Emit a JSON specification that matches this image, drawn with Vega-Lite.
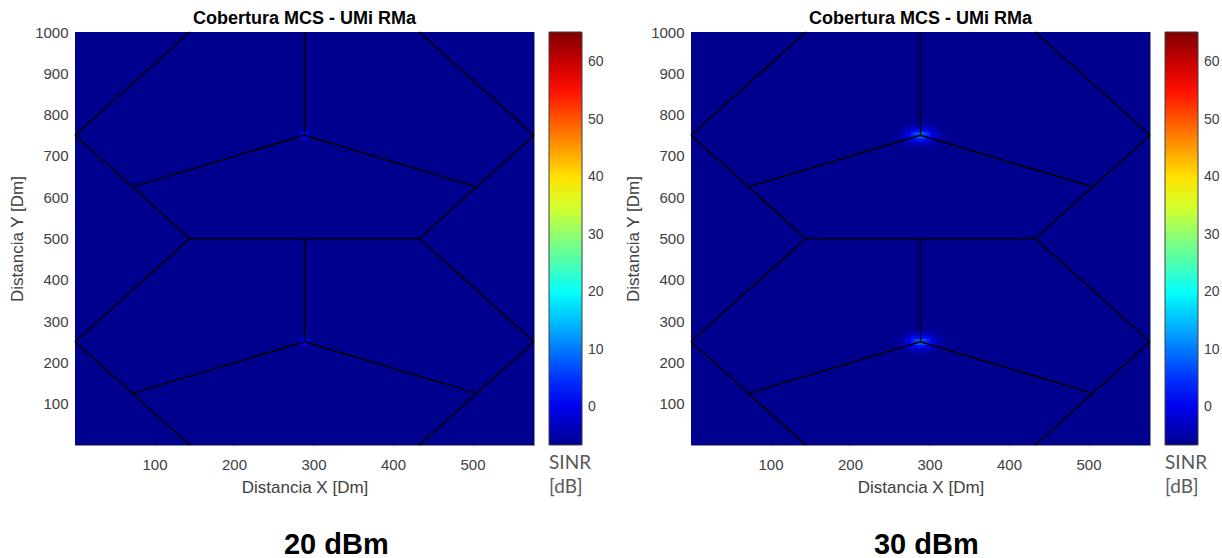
{
  "$schema": "https://vega.github.io/schema/vega-lite/v6.json",
  "padding": {"left": 8, "top": 9, "right": 0, "bottom": 0},
  "config": {
    "font": "Liberation Sans",
    "view": {"stroke": "#8a8a8a", "strokeWidth": 1},
    "axis": {
      "grid": false,
      "domain": false,
      "format": "d",
      "labelFont": "Liberation Sans",
      "labelFontSize": 15,
      "labelColor": "#404040",
      "labelFlush": false,
      "titleFont": "Liberation Sans",
      "titleFontSize": 17,
      "titleFontWeight": "normal",
      "titleColor": "#404040",
      "tickColor": "#262626",
      "tickSize": -5
    },
    "title": {"font": "Liberation Sans", "color": "#000000"}
  },
  "datasets": {
    "edges": [
      {"x0": 0, "y0": 750, "x1": 144.34, "y1": 1000},
      {"x0": 433.01, "y0": 1000, "x1": 577.35, "y1": 750},
      {"x0": 577.35, "y0": 750, "x1": 433.01, "y1": 500},
      {"x0": 433.01, "y0": 500, "x1": 144.34, "y1": 500},
      {"x0": 144.34, "y0": 500, "x1": 0, "y1": 750},
      {"x0": 288.68, "y0": 750, "x1": 288.68, "y1": 1000},
      {"x0": 288.68, "y0": 750, "x1": 72.17, "y1": 625},
      {"x0": 288.68, "y0": 750, "x1": 505.18, "y1": 625},
      {"x0": 0, "y0": 250, "x1": 144.34, "y1": 500},
      {"x0": 433.01, "y0": 500, "x1": 577.35, "y1": 250},
      {"x0": 577.35, "y0": 250, "x1": 433.01, "y1": 0},
      {"x0": 144.34, "y0": 0, "x1": 0, "y1": 250},
      {"x0": 288.68, "y0": 250, "x1": 288.68, "y1": 500},
      {"x0": 288.68, "y0": 250, "x1": 72.17, "y1": 125},
      {"x0": 288.68, "y0": 250, "x1": 505.18, "y1": 125}
    ],
    "sinr20": [
      {"x0": 0, "x1": 577.35, "y0": 0, "y1": 1000, "sinr": -6.6},
      {"x0": 280.7, "x1": 284.7, "y0": 734, "y1": 742, "sinr": -5.5},
      {"x0": 284.7, "x1": 288.7, "y0": 734, "y1": 742, "sinr": -4.5},
      {"x0": 288.7, "x1": 292.7, "y0": 734, "y1": 742, "sinr": -4.5},
      {"x0": 292.7, "x1": 296.7, "y0": 734, "y1": 742, "sinr": -5.5},
      {"x0": 280.7, "x1": 284.7, "y0": 742, "y1": 750, "sinr": -3.5},
      {"x0": 284.7, "x1": 288.7, "y0": 742, "y1": 750, "sinr": 1.5},
      {"x0": 288.7, "x1": 292.7, "y0": 742, "y1": 750, "sinr": 1.5},
      {"x0": 292.7, "x1": 296.7, "y0": 742, "y1": 750, "sinr": -3.5},
      {"x0": 280.7, "x1": 284.7, "y0": 750, "y1": 758, "sinr": -3.5},
      {"x0": 284.7, "x1": 288.7, "y0": 750, "y1": 758, "sinr": 1.5},
      {"x0": 288.7, "x1": 292.7, "y0": 750, "y1": 758, "sinr": 1.5},
      {"x0": 292.7, "x1": 296.7, "y0": 750, "y1": 758, "sinr": -3.5},
      {"x0": 280.7, "x1": 284.7, "y0": 758, "y1": 766, "sinr": -5.5},
      {"x0": 284.7, "x1": 288.7, "y0": 758, "y1": 766, "sinr": -4.5},
      {"x0": 288.7, "x1": 292.7, "y0": 758, "y1": 766, "sinr": -4.5},
      {"x0": 292.7, "x1": 296.7, "y0": 758, "y1": 766, "sinr": -5.5},
      {"x0": 280.7, "x1": 284.7, "y0": 234, "y1": 242, "sinr": -5.5},
      {"x0": 284.7, "x1": 288.7, "y0": 234, "y1": 242, "sinr": -4.5},
      {"x0": 288.7, "x1": 292.7, "y0": 234, "y1": 242, "sinr": -4.5},
      {"x0": 292.7, "x1": 296.7, "y0": 234, "y1": 242, "sinr": -5.5},
      {"x0": 280.7, "x1": 284.7, "y0": 242, "y1": 250, "sinr": -3.5},
      {"x0": 284.7, "x1": 288.7, "y0": 242, "y1": 250, "sinr": 1.5},
      {"x0": 288.7, "x1": 292.7, "y0": 242, "y1": 250, "sinr": 1.5},
      {"x0": 292.7, "x1": 296.7, "y0": 242, "y1": 250, "sinr": -3.5},
      {"x0": 280.7, "x1": 284.7, "y0": 250, "y1": 258, "sinr": -3.5},
      {"x0": 284.7, "x1": 288.7, "y0": 250, "y1": 258, "sinr": 1.5},
      {"x0": 288.7, "x1": 292.7, "y0": 250, "y1": 258, "sinr": 1.5},
      {"x0": 292.7, "x1": 296.7, "y0": 250, "y1": 258, "sinr": -3.5},
      {"x0": 280.7, "x1": 284.7, "y0": 258, "y1": 266, "sinr": -5.5},
      {"x0": 284.7, "x1": 288.7, "y0": 258, "y1": 266, "sinr": -4.5},
      {"x0": 288.7, "x1": 292.7, "y0": 258, "y1": 266, "sinr": -4.5},
      {"x0": 292.7, "x1": 296.7, "y0": 258, "y1": 266, "sinr": -5.5}
    ],
    "sinr30": [
      {"x0": 0, "x1": 577.35, "y0": 0, "y1": 1000, "sinr": -6.6},

      {"x0": 268.7, "x1": 272.7, "y0": 718, "y1": 726, "sinr": -6.3},
      {"x0": 272.7, "x1": 276.7, "y0": 718, "y1": 726, "sinr": -6.1},
      {"x0": 276.7, "x1": 280.7, "y0": 718, "y1": 726, "sinr": -5.9},
      {"x0": 280.7, "x1": 284.7, "y0": 718, "y1": 726, "sinr": -5.7},
      {"x0": 284.7, "x1": 288.7, "y0": 718, "y1": 726, "sinr": -5.6},
      {"x0": 288.7, "x1": 292.7, "y0": 718, "y1": 726, "sinr": -5.6},
      {"x0": 292.7, "x1": 296.7, "y0": 718, "y1": 726, "sinr": -5.7},
      {"x0": 296.7, "x1": 300.7, "y0": 718, "y1": 726, "sinr": -5.9},
      {"x0": 300.7, "x1": 304.7, "y0": 718, "y1": 726, "sinr": -6.1},
      {"x0": 304.7, "x1": 308.7, "y0": 718, "y1": 726, "sinr": -6.3},

      {"x0": 260.7, "x1": 264.7, "y0": 726, "y1": 734, "sinr": -6.2},
      {"x0": 264.7, "x1": 268.7, "y0": 726, "y1": 734, "sinr": -5.9},
      {"x0": 268.7, "x1": 272.7, "y0": 726, "y1": 734, "sinr": -5.3},
      {"x0": 272.7, "x1": 276.7, "y0": 726, "y1": 734, "sinr": -4.6},
      {"x0": 276.7, "x1": 280.7, "y0": 726, "y1": 734, "sinr": -3.8},
      {"x0": 280.7, "x1": 284.7, "y0": 726, "y1": 734, "sinr": -3.2},
      {"x0": 284.7, "x1": 288.7, "y0": 726, "y1": 734, "sinr": -2.7},
      {"x0": 288.7, "x1": 292.7, "y0": 726, "y1": 734, "sinr": -2.7},
      {"x0": 292.7, "x1": 296.7, "y0": 726, "y1": 734, "sinr": -3.2},
      {"x0": 296.7, "x1": 300.7, "y0": 726, "y1": 734, "sinr": -3.8},
      {"x0": 300.7, "x1": 304.7, "y0": 726, "y1": 734, "sinr": -4.6},
      {"x0": 304.7, "x1": 308.7, "y0": 726, "y1": 734, "sinr": -5.3},
      {"x0": 308.7, "x1": 312.7, "y0": 726, "y1": 734, "sinr": -5.9},
      {"x0": 312.7, "x1": 316.7, "y0": 726, "y1": 734, "sinr": -6.2},

      {"x0": 256.7, "x1": 260.7, "y0": 734, "y1": 742, "sinr": -6.2},
      {"x0": 260.7, "x1": 264.7, "y0": 734, "y1": 742, "sinr": -5.7},
      {"x0": 264.7, "x1": 268.7, "y0": 734, "y1": 742, "sinr": -4.8},
      {"x0": 268.7, "x1": 272.7, "y0": 734, "y1": 742, "sinr": -3.5},
      {"x0": 272.7, "x1": 276.7, "y0": 734, "y1": 742, "sinr": -1.8},
      {"x0": 276.7, "x1": 280.7, "y0": 734, "y1": 742, "sinr": 0.1},
      {"x0": 280.7, "x1": 284.7, "y0": 734, "y1": 742, "sinr": 1.8},
      {"x0": 284.7, "x1": 288.7, "y0": 734, "y1": 742, "sinr": 2.7},
      {"x0": 288.7, "x1": 292.7, "y0": 734, "y1": 742, "sinr": 2.7},
      {"x0": 292.7, "x1": 296.7, "y0": 734, "y1": 742, "sinr": 1.8},
      {"x0": 296.7, "x1": 300.7, "y0": 734, "y1": 742, "sinr": 0.1},
      {"x0": 300.7, "x1": 304.7, "y0": 734, "y1": 742, "sinr": -1.8},
      {"x0": 304.7, "x1": 308.7, "y0": 734, "y1": 742, "sinr": -3.5},
      {"x0": 308.7, "x1": 312.7, "y0": 734, "y1": 742, "sinr": -4.8},
      {"x0": 312.7, "x1": 316.7, "y0": 734, "y1": 742, "sinr": -5.7},
      {"x0": 316.7, "x1": 320.7, "y0": 734, "y1": 742, "sinr": -6.2},

      {"x0": 256.7, "x1": 260.7, "y0": 742, "y1": 750, "sinr": -5.9},
      {"x0": 260.7, "x1": 264.7, "y0": 742, "y1": 750, "sinr": -5.2},
      {"x0": 264.7, "x1": 268.7, "y0": 742, "y1": 750, "sinr": -3.8},
      {"x0": 268.7, "x1": 272.7, "y0": 742, "y1": 750, "sinr": -1.8},
      {"x0": 272.7, "x1": 276.7, "y0": 742, "y1": 750, "sinr": 0.9},
      {"x0": 276.7, "x1": 280.7, "y0": 742, "y1": 750, "sinr": 3.8},
      {"x0": 280.7, "x1": 284.7, "y0": 742, "y1": 750, "sinr": 6.4},
      {"x0": 284.7, "x1": 288.7, "y0": 742, "y1": 750, "sinr": 7.9},
      {"x0": 288.7, "x1": 292.7, "y0": 742, "y1": 750, "sinr": 7.9},
      {"x0": 292.7, "x1": 296.7, "y0": 742, "y1": 750, "sinr": 6.4},
      {"x0": 296.7, "x1": 300.7, "y0": 742, "y1": 750, "sinr": 3.8},
      {"x0": 300.7, "x1": 304.7, "y0": 742, "y1": 750, "sinr": 0.9},
      {"x0": 304.7, "x1": 308.7, "y0": 742, "y1": 750, "sinr": -1.8},
      {"x0": 308.7, "x1": 312.7, "y0": 742, "y1": 750, "sinr": -3.8},
      {"x0": 312.7, "x1": 316.7, "y0": 742, "y1": 750, "sinr": -5.2},
      {"x0": 316.7, "x1": 320.7, "y0": 742, "y1": 750, "sinr": -5.9},

      {"x0": 256.7, "x1": 260.7, "y0": 750, "y1": 758, "sinr": -5.9},
      {"x0": 260.7, "x1": 264.7, "y0": 750, "y1": 758, "sinr": -5.2},
      {"x0": 264.7, "x1": 268.7, "y0": 750, "y1": 758, "sinr": -3.8},
      {"x0": 268.7, "x1": 272.7, "y0": 750, "y1": 758, "sinr": -1.8},
      {"x0": 272.7, "x1": 276.7, "y0": 750, "y1": 758, "sinr": 0.9},
      {"x0": 276.7, "x1": 280.7, "y0": 750, "y1": 758, "sinr": 3.8},
      {"x0": 280.7, "x1": 284.7, "y0": 750, "y1": 758, "sinr": 6.4},
      {"x0": 284.7, "x1": 288.7, "y0": 750, "y1": 758, "sinr": 7.9},
      {"x0": 288.7, "x1": 292.7, "y0": 750, "y1": 758, "sinr": 7.9},
      {"x0": 292.7, "x1": 296.7, "y0": 750, "y1": 758, "sinr": 6.4},
      {"x0": 296.7, "x1": 300.7, "y0": 750, "y1": 758, "sinr": 3.8},
      {"x0": 300.7, "x1": 304.7, "y0": 750, "y1": 758, "sinr": 0.9},
      {"x0": 304.7, "x1": 308.7, "y0": 750, "y1": 758, "sinr": -1.8},
      {"x0": 308.7, "x1": 312.7, "y0": 750, "y1": 758, "sinr": -3.8},
      {"x0": 312.7, "x1": 316.7, "y0": 750, "y1": 758, "sinr": -5.2},
      {"x0": 316.7, "x1": 320.7, "y0": 750, "y1": 758, "sinr": -5.9},

      {"x0": 256.7, "x1": 260.7, "y0": 758, "y1": 766, "sinr": -6.2},
      {"x0": 260.7, "x1": 264.7, "y0": 758, "y1": 766, "sinr": -5.7},
      {"x0": 264.7, "x1": 268.7, "y0": 758, "y1": 766, "sinr": -4.8},
      {"x0": 268.7, "x1": 272.7, "y0": 758, "y1": 766, "sinr": -3.5},
      {"x0": 272.7, "x1": 276.7, "y0": 758, "y1": 766, "sinr": -1.8},
      {"x0": 276.7, "x1": 280.7, "y0": 758, "y1": 766, "sinr": 0.1},
      {"x0": 280.7, "x1": 284.7, "y0": 758, "y1": 766, "sinr": 1.8},
      {"x0": 284.7, "x1": 288.7, "y0": 758, "y1": 766, "sinr": 2.7},
      {"x0": 288.7, "x1": 292.7, "y0": 758, "y1": 766, "sinr": 2.7},
      {"x0": 292.7, "x1": 296.7, "y0": 758, "y1": 766, "sinr": 1.8},
      {"x0": 296.7, "x1": 300.7, "y0": 758, "y1": 766, "sinr": 0.1},
      {"x0": 300.7, "x1": 304.7, "y0": 758, "y1": 766, "sinr": -1.8},
      {"x0": 304.7, "x1": 308.7, "y0": 758, "y1": 766, "sinr": -3.5},
      {"x0": 308.7, "x1": 312.7, "y0": 758, "y1": 766, "sinr": -4.8},
      {"x0": 312.7, "x1": 316.7, "y0": 758, "y1": 766, "sinr": -5.7},
      {"x0": 316.7, "x1": 320.7, "y0": 758, "y1": 766, "sinr": -6.2},

      {"x0": 260.7, "x1": 264.7, "y0": 766, "y1": 774, "sinr": -6.2},
      {"x0": 264.7, "x1": 268.7, "y0": 766, "y1": 774, "sinr": -5.9},
      {"x0": 268.7, "x1": 272.7, "y0": 766, "y1": 774, "sinr": -5.3},
      {"x0": 272.7, "x1": 276.7, "y0": 766, "y1": 774, "sinr": -4.6},
      {"x0": 276.7, "x1": 280.7, "y0": 766, "y1": 774, "sinr": -3.8},
      {"x0": 280.7, "x1": 284.7, "y0": 766, "y1": 774, "sinr": -3.2},
      {"x0": 284.7, "x1": 288.7, "y0": 766, "y1": 774, "sinr": -2.7},
      {"x0": 288.7, "x1": 292.7, "y0": 766, "y1": 774, "sinr": -2.7},
      {"x0": 292.7, "x1": 296.7, "y0": 766, "y1": 774, "sinr": -3.2},
      {"x0": 296.7, "x1": 300.7, "y0": 766, "y1": 774, "sinr": -3.8},
      {"x0": 300.7, "x1": 304.7, "y0": 766, "y1": 774, "sinr": -4.6},
      {"x0": 304.7, "x1": 308.7, "y0": 766, "y1": 774, "sinr": -5.3},
      {"x0": 308.7, "x1": 312.7, "y0": 766, "y1": 774, "sinr": -5.9},
      {"x0": 312.7, "x1": 316.7, "y0": 766, "y1": 774, "sinr": -6.2},

      {"x0": 268.7, "x1": 272.7, "y0": 774, "y1": 782, "sinr": -6.3},
      {"x0": 272.7, "x1": 276.7, "y0": 774, "y1": 782, "sinr": -6.1},
      {"x0": 276.7, "x1": 280.7, "y0": 774, "y1": 782, "sinr": -5.9},
      {"x0": 280.7, "x1": 284.7, "y0": 774, "y1": 782, "sinr": -5.7},
      {"x0": 284.7, "x1": 288.7, "y0": 774, "y1": 782, "sinr": -5.6},
      {"x0": 288.7, "x1": 292.7, "y0": 774, "y1": 782, "sinr": -5.6},
      {"x0": 292.7, "x1": 296.7, "y0": 774, "y1": 782, "sinr": -5.7},
      {"x0": 296.7, "x1": 300.7, "y0": 774, "y1": 782, "sinr": -5.9},
      {"x0": 300.7, "x1": 304.7, "y0": 774, "y1": 782, "sinr": -6.1},
      {"x0": 304.7, "x1": 308.7, "y0": 774, "y1": 782, "sinr": -6.3},

      {"x0": 268.7, "x1": 272.7, "y0": 218, "y1": 226, "sinr": -6.3},
      {"x0": 272.7, "x1": 276.7, "y0": 218, "y1": 226, "sinr": -6.1},
      {"x0": 276.7, "x1": 280.7, "y0": 218, "y1": 226, "sinr": -5.9},
      {"x0": 280.7, "x1": 284.7, "y0": 218, "y1": 226, "sinr": -5.7},
      {"x0": 284.7, "x1": 288.7, "y0": 218, "y1": 226, "sinr": -5.6},
      {"x0": 288.7, "x1": 292.7, "y0": 218, "y1": 226, "sinr": -5.6},
      {"x0": 292.7, "x1": 296.7, "y0": 218, "y1": 226, "sinr": -5.7},
      {"x0": 296.7, "x1": 300.7, "y0": 218, "y1": 226, "sinr": -5.9},
      {"x0": 300.7, "x1": 304.7, "y0": 218, "y1": 226, "sinr": -6.1},
      {"x0": 304.7, "x1": 308.7, "y0": 218, "y1": 226, "sinr": -6.3},

      {"x0": 260.7, "x1": 264.7, "y0": 226, "y1": 234, "sinr": -6.2},
      {"x0": 264.7, "x1": 268.7, "y0": 226, "y1": 234, "sinr": -5.9},
      {"x0": 268.7, "x1": 272.7, "y0": 226, "y1": 234, "sinr": -5.3},
      {"x0": 272.7, "x1": 276.7, "y0": 226, "y1": 234, "sinr": -4.6},
      {"x0": 276.7, "x1": 280.7, "y0": 226, "y1": 234, "sinr": -3.8},
      {"x0": 280.7, "x1": 284.7, "y0": 226, "y1": 234, "sinr": -3.2},
      {"x0": 284.7, "x1": 288.7, "y0": 226, "y1": 234, "sinr": -2.7},
      {"x0": 288.7, "x1": 292.7, "y0": 226, "y1": 234, "sinr": -2.7},
      {"x0": 292.7, "x1": 296.7, "y0": 226, "y1": 234, "sinr": -3.2},
      {"x0": 296.7, "x1": 300.7, "y0": 226, "y1": 234, "sinr": -3.8},
      {"x0": 300.7, "x1": 304.7, "y0": 226, "y1": 234, "sinr": -4.6},
      {"x0": 304.7, "x1": 308.7, "y0": 226, "y1": 234, "sinr": -5.3},
      {"x0": 308.7, "x1": 312.7, "y0": 226, "y1": 234, "sinr": -5.9},
      {"x0": 312.7, "x1": 316.7, "y0": 226, "y1": 234, "sinr": -6.2},

      {"x0": 256.7, "x1": 260.7, "y0": 234, "y1": 242, "sinr": -6.2},
      {"x0": 260.7, "x1": 264.7, "y0": 234, "y1": 242, "sinr": -5.7},
      {"x0": 264.7, "x1": 268.7, "y0": 234, "y1": 242, "sinr": -4.8},
      {"x0": 268.7, "x1": 272.7, "y0": 234, "y1": 242, "sinr": -3.5},
      {"x0": 272.7, "x1": 276.7, "y0": 234, "y1": 242, "sinr": -1.8},
      {"x0": 276.7, "x1": 280.7, "y0": 234, "y1": 242, "sinr": 0.1},
      {"x0": 280.7, "x1": 284.7, "y0": 234, "y1": 242, "sinr": 1.8},
      {"x0": 284.7, "x1": 288.7, "y0": 234, "y1": 242, "sinr": 2.7},
      {"x0": 288.7, "x1": 292.7, "y0": 234, "y1": 242, "sinr": 2.7},
      {"x0": 292.7, "x1": 296.7, "y0": 234, "y1": 242, "sinr": 1.8},
      {"x0": 296.7, "x1": 300.7, "y0": 234, "y1": 242, "sinr": 0.1},
      {"x0": 300.7, "x1": 304.7, "y0": 234, "y1": 242, "sinr": -1.8},
      {"x0": 304.7, "x1": 308.7, "y0": 234, "y1": 242, "sinr": -3.5},
      {"x0": 308.7, "x1": 312.7, "y0": 234, "y1": 242, "sinr": -4.8},
      {"x0": 312.7, "x1": 316.7, "y0": 234, "y1": 242, "sinr": -5.7},
      {"x0": 316.7, "x1": 320.7, "y0": 234, "y1": 242, "sinr": -6.2},

      {"x0": 256.7, "x1": 260.7, "y0": 242, "y1": 250, "sinr": -5.9},
      {"x0": 260.7, "x1": 264.7, "y0": 242, "y1": 250, "sinr": -5.2},
      {"x0": 264.7, "x1": 268.7, "y0": 242, "y1": 250, "sinr": -3.8},
      {"x0": 268.7, "x1": 272.7, "y0": 242, "y1": 250, "sinr": -1.8},
      {"x0": 272.7, "x1": 276.7, "y0": 242, "y1": 250, "sinr": 0.9},
      {"x0": 276.7, "x1": 280.7, "y0": 242, "y1": 250, "sinr": 3.8},
      {"x0": 280.7, "x1": 284.7, "y0": 242, "y1": 250, "sinr": 6.4},
      {"x0": 284.7, "x1": 288.7, "y0": 242, "y1": 250, "sinr": 7.9},
      {"x0": 288.7, "x1": 292.7, "y0": 242, "y1": 250, "sinr": 7.9},
      {"x0": 292.7, "x1": 296.7, "y0": 242, "y1": 250, "sinr": 6.4},
      {"x0": 296.7, "x1": 300.7, "y0": 242, "y1": 250, "sinr": 3.8},
      {"x0": 300.7, "x1": 304.7, "y0": 242, "y1": 250, "sinr": 0.9},
      {"x0": 304.7, "x1": 308.7, "y0": 242, "y1": 250, "sinr": -1.8},
      {"x0": 308.7, "x1": 312.7, "y0": 242, "y1": 250, "sinr": -3.8},
      {"x0": 312.7, "x1": 316.7, "y0": 242, "y1": 250, "sinr": -5.2},
      {"x0": 316.7, "x1": 320.7, "y0": 242, "y1": 250, "sinr": -5.9},

      {"x0": 256.7, "x1": 260.7, "y0": 250, "y1": 258, "sinr": -5.9},
      {"x0": 260.7, "x1": 264.7, "y0": 250, "y1": 258, "sinr": -5.2},
      {"x0": 264.7, "x1": 268.7, "y0": 250, "y1": 258, "sinr": -3.8},
      {"x0": 268.7, "x1": 272.7, "y0": 250, "y1": 258, "sinr": -1.8},
      {"x0": 272.7, "x1": 276.7, "y0": 250, "y1": 258, "sinr": 0.9},
      {"x0": 276.7, "x1": 280.7, "y0": 250, "y1": 258, "sinr": 3.8},
      {"x0": 280.7, "x1": 284.7, "y0": 250, "y1": 258, "sinr": 6.4},
      {"x0": 284.7, "x1": 288.7, "y0": 250, "y1": 258, "sinr": 7.9},
      {"x0": 288.7, "x1": 292.7, "y0": 250, "y1": 258, "sinr": 7.9},
      {"x0": 292.7, "x1": 296.7, "y0": 250, "y1": 258, "sinr": 6.4},
      {"x0": 296.7, "x1": 300.7, "y0": 250, "y1": 258, "sinr": 3.8},
      {"x0": 300.7, "x1": 304.7, "y0": 250, "y1": 258, "sinr": 0.9},
      {"x0": 304.7, "x1": 308.7, "y0": 250, "y1": 258, "sinr": -1.8},
      {"x0": 308.7, "x1": 312.7, "y0": 250, "y1": 258, "sinr": -3.8},
      {"x0": 312.7, "x1": 316.7, "y0": 250, "y1": 258, "sinr": -5.2},
      {"x0": 316.7, "x1": 320.7, "y0": 250, "y1": 258, "sinr": -5.9},

      {"x0": 256.7, "x1": 260.7, "y0": 258, "y1": 266, "sinr": -6.2},
      {"x0": 260.7, "x1": 264.7, "y0": 258, "y1": 266, "sinr": -5.7},
      {"x0": 264.7, "x1": 268.7, "y0": 258, "y1": 266, "sinr": -4.8},
      {"x0": 268.7, "x1": 272.7, "y0": 258, "y1": 266, "sinr": -3.5},
      {"x0": 272.7, "x1": 276.7, "y0": 258, "y1": 266, "sinr": -1.8},
      {"x0": 276.7, "x1": 280.7, "y0": 258, "y1": 266, "sinr": 0.1},
      {"x0": 280.7, "x1": 284.7, "y0": 258, "y1": 266, "sinr": 1.8},
      {"x0": 284.7, "x1": 288.7, "y0": 258, "y1": 266, "sinr": 2.7},
      {"x0": 288.7, "x1": 292.7, "y0": 258, "y1": 266, "sinr": 2.7},
      {"x0": 292.7, "x1": 296.7, "y0": 258, "y1": 266, "sinr": 1.8},
      {"x0": 296.7, "x1": 300.7, "y0": 258, "y1": 266, "sinr": 0.1},
      {"x0": 300.7, "x1": 304.7, "y0": 258, "y1": 266, "sinr": -1.8},
      {"x0": 304.7, "x1": 308.7, "y0": 258, "y1": 266, "sinr": -3.5},
      {"x0": 308.7, "x1": 312.7, "y0": 258, "y1": 266, "sinr": -4.8},
      {"x0": 312.7, "x1": 316.7, "y0": 258, "y1": 266, "sinr": -5.7},
      {"x0": 316.7, "x1": 320.7, "y0": 258, "y1": 266, "sinr": -6.2},

      {"x0": 260.7, "x1": 264.7, "y0": 266, "y1": 274, "sinr": -6.2},
      {"x0": 264.7, "x1": 268.7, "y0": 266, "y1": 274, "sinr": -5.9},
      {"x0": 268.7, "x1": 272.7, "y0": 266, "y1": 274, "sinr": -5.3},
      {"x0": 272.7, "x1": 276.7, "y0": 266, "y1": 274, "sinr": -4.6},
      {"x0": 276.7, "x1": 280.7, "y0": 266, "y1": 274, "sinr": -3.8},
      {"x0": 280.7, "x1": 284.7, "y0": 266, "y1": 274, "sinr": -3.2},
      {"x0": 284.7, "x1": 288.7, "y0": 266, "y1": 274, "sinr": -2.7},
      {"x0": 288.7, "x1": 292.7, "y0": 266, "y1": 274, "sinr": -2.7},
      {"x0": 292.7, "x1": 296.7, "y0": 266, "y1": 274, "sinr": -3.2},
      {"x0": 296.7, "x1": 300.7, "y0": 266, "y1": 274, "sinr": -3.8},
      {"x0": 300.7, "x1": 304.7, "y0": 266, "y1": 274, "sinr": -4.6},
      {"x0": 304.7, "x1": 308.7, "y0": 266, "y1": 274, "sinr": -5.3},
      {"x0": 308.7, "x1": 312.7, "y0": 266, "y1": 274, "sinr": -5.9},
      {"x0": 312.7, "x1": 316.7, "y0": 266, "y1": 274, "sinr": -6.2},

      {"x0": 268.7, "x1": 272.7, "y0": 274, "y1": 282, "sinr": -6.3},
      {"x0": 272.7, "x1": 276.7, "y0": 274, "y1": 282, "sinr": -6.1},
      {"x0": 276.7, "x1": 280.7, "y0": 274, "y1": 282, "sinr": -5.9},
      {"x0": 280.7, "x1": 284.7, "y0": 274, "y1": 282, "sinr": -5.7},
      {"x0": 284.7, "x1": 288.7, "y0": 274, "y1": 282, "sinr": -5.6},
      {"x0": 288.7, "x1": 292.7, "y0": 274, "y1": 282, "sinr": -5.6},
      {"x0": 292.7, "x1": 296.7, "y0": 274, "y1": 282, "sinr": -5.7},
      {"x0": 296.7, "x1": 300.7, "y0": 274, "y1": 282, "sinr": -5.9},
      {"x0": 300.7, "x1": 304.7, "y0": 274, "y1": 282, "sinr": -6.1},
      {"x0": 304.7, "x1": 308.7, "y0": 274, "y1": 282, "sinr": -6.3}
    ]
  },
  "spacing": 19,
  "resolve": {"scale": {"color": "independent"}},
  "hconcat": [
    {
      "title": {"text": "20 dBm", "orient": "bottom", "anchor": "middle", "fontSize": 29, "fontWeight": "bold", "color": "#000000", "offset": 33, "dx": 30},
      "resolve": {"scale": {"color": "independent"}},
      "vconcat": [
        {
          "title": {"text": "Cobertura MCS - UMi RMa", "fontSize": 18, "fontWeight": "bold", "color": "#000000", "anchor": "middle", "frame": "group", "offset": -3},
          "width": 459,
          "height": 413,
          "encoding": {
            "x": {"field": "x0", "type": "quantitative", "scale": {"domain": [0, 577.35], "nice": false, "zero": false}, "axis": {"title": "Distancia X [Dm]", "values": [100, 200, 300, 400, 500], "labelPadding": 17, "titlePadding": 7}},
            "x2": {"field": "x1"},
            "y": {"field": "y0", "type": "quantitative", "scale": {"domain": [0, 1000], "nice": false, "zero": false}, "axis": {"title": "Distancia Y [Dm]", "values": [100, 200, 300, 400, 500, 600, 700, 800, 900, 1000], "labelPadding": 12, "titlePadding": 8}},
            "y2": {"field": "y1"}
          },
          "layer": [
            {
              "data": {"name": "sinr20"},
              "mark": {"type": "rect"},
              "encoding": {
                "color": {
                  "field": "sinr", "type": "quantitative",
                  "scale": {"type": "linear", "domain": [-6.6, 65.3], "nice": false, "zero": false, "interpolate": "rgb",
                    "range": ["#00008F","#00009F","#0000AF","#0000BF","#0000CF","#0000DF","#0000EF","#0000FF","#0010FF","#0020FF","#0030FF","#0040FF","#0050FF","#0060FF","#0070FF","#0080FF","#008FFF","#009FFF","#00AFFF","#00BFFF","#00CFFF","#00DFFF","#00EFFF","#00FFFF","#10FFEF","#20FFDF","#30FFCF","#40FFBF","#50FFAF","#60FF9F","#70FF8F","#80FF80","#8FFF70","#9FFF60","#AFFF50","#BFFF40","#CFFF30","#DFFF20","#EFFF10","#FFFF00","#FFEF00","#FFDF00","#FFCF00","#FFBF00","#FFAF00","#FF9F00","#FF8F00","#FF8000","#FF7000","#FF6000","#FF5000","#FF4000","#FF3000","#FF2000","#FF1000","#FF0000","#EF0000","#DF0000","#CF0000","#BF0000","#AF0000","#9F0000","#8F0000","#800000"]},
                  "legend": {"type": "gradient", "direction": "vertical", "orient": "right", "offset": 15, "padding": 0, "gradientLength": 413, "gradientThickness": 33, "gradientStrokeColor": "#404040", "gradientStrokeWidth": 1, "values": [0, 10, 20, 30, 40, 50, 60], "labelFont": "Liberation Sans", "labelFontSize": 14, "labelColor": "#404040", "labelOffset": 6, "title": ["SINR", "[dB]"], "titleOrient": "bottom", "titleAnchor": "start", "titleAlign": "left", "titleFont": "Lato", "titleFontSize": 19, "titleFontWeight": "normal", "titleColor": "#595959", "titlePadding": 8, "titleLineHeight": 24}
                }
              }
            },
            {
              "data": {"name": "edges"},
              "mark": {"type": "rule", "color": "#000000", "strokeWidth": 1.5}
            }
          ]
        }
      ]
    },
    {
      "title": {"text": "30 dBm", "orient": "bottom", "anchor": "middle", "fontSize": 29, "fontWeight": "bold", "color": "#000000", "offset": 33, "dx": 4},
      "resolve": {"scale": {"color": "independent"}},
      "vconcat": [
        {
          "title": {"text": "Cobertura MCS - UMi RMa", "fontSize": 18, "fontWeight": "bold", "color": "#000000", "anchor": "middle", "frame": "group", "offset": -3},
          "width": 459,
          "height": 413,
          "encoding": {
            "x": {"field": "x0", "type": "quantitative", "scale": {"domain": [0, 577.35], "nice": false, "zero": false}, "axis": {"title": "Distancia X [Dm]", "values": [100, 200, 300, 400, 500], "labelPadding": 17, "titlePadding": 7}},
            "x2": {"field": "x1"},
            "y": {"field": "y0", "type": "quantitative", "scale": {"domain": [0, 1000], "nice": false, "zero": false}, "axis": {"title": "Distancia Y [Dm]", "values": [100, 200, 300, 400, 500, 600, 700, 800, 900, 1000], "labelPadding": 12, "titlePadding": 8}},
            "y2": {"field": "y1"}
          },
          "layer": [
            {
              "data": {"name": "sinr30"},
              "mark": {"type": "rect"},
              "encoding": {
                "color": {
                  "field": "sinr", "type": "quantitative",
                  "scale": {"type": "linear", "domain": [-6.6, 65.3], "nice": false, "zero": false, "interpolate": "rgb",
                    "range": ["#00008F","#00009F","#0000AF","#0000BF","#0000CF","#0000DF","#0000EF","#0000FF","#0010FF","#0020FF","#0030FF","#0040FF","#0050FF","#0060FF","#0070FF","#0080FF","#008FFF","#009FFF","#00AFFF","#00BFFF","#00CFFF","#00DFFF","#00EFFF","#00FFFF","#10FFEF","#20FFDF","#30FFCF","#40FFBF","#50FFAF","#60FF9F","#70FF8F","#80FF80","#8FFF70","#9FFF60","#AFFF50","#BFFF40","#CFFF30","#DFFF20","#EFFF10","#FFFF00","#FFEF00","#FFDF00","#FFCF00","#FFBF00","#FFAF00","#FF9F00","#FF8F00","#FF8000","#FF7000","#FF6000","#FF5000","#FF4000","#FF3000","#FF2000","#FF1000","#FF0000","#EF0000","#DF0000","#CF0000","#BF0000","#AF0000","#9F0000","#8F0000","#800000"]},
                  "legend": {"type": "gradient", "direction": "vertical", "orient": "right", "offset": 15, "padding": 0, "gradientLength": 413, "gradientThickness": 33, "gradientStrokeColor": "#404040", "gradientStrokeWidth": 1, "values": [0, 10, 20, 30, 40, 50, 60], "labelFont": "Liberation Sans", "labelFontSize": 14, "labelColor": "#404040", "labelOffset": 6, "title": ["SINR", "[dB]"], "titleOrient": "bottom", "titleAnchor": "start", "titleAlign": "left", "titleFont": "Lato", "titleFontSize": 19, "titleFontWeight": "normal", "titleColor": "#595959", "titlePadding": 8, "titleLineHeight": 24}
                }
              }
            },
            {
              "data": {"name": "edges"},
              "mark": {"type": "rule", "color": "#000000", "strokeWidth": 1.5}
            }
          ]
        }
      ]
    }
  ]
}
